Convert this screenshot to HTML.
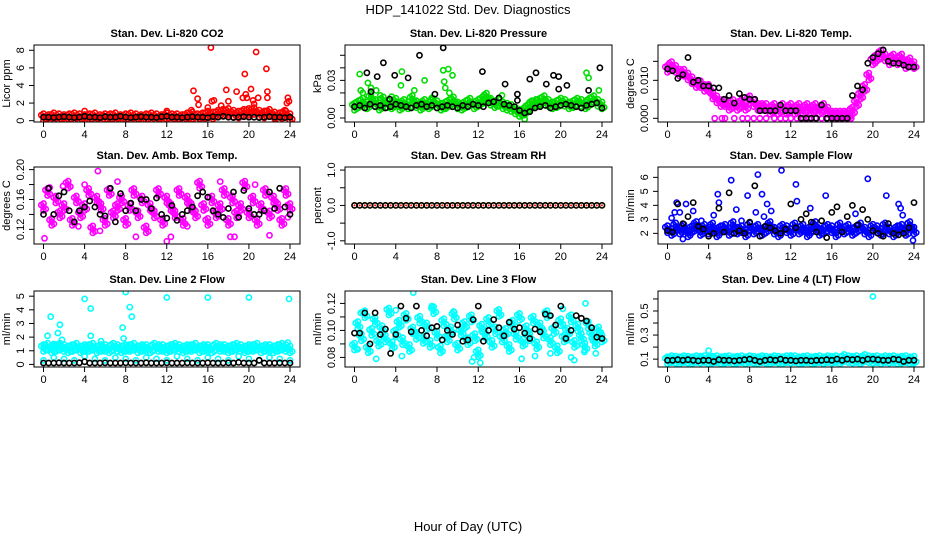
<!DOCTYPE html>
<html><head><meta charset="utf-8">
<style>
html,body{margin:0;padding:0;background:#fff;}
svg{display:block;font-family:"Liberation Sans",sans-serif;}
</style></head>
<body>
<svg id="chart" width="936" height="540" viewBox="0 0 936 540" xmlns="http://www.w3.org/2000/svg">
<rect width="936" height="540" fill="#fff"/>
<text x="468" y="14" text-anchor="middle" font-size="13">HDP_141022  Std. Dev. Diagnostics</text>
<text x="468" y="531" text-anchor="middle" font-size="13">Hour of Day (UTC)</text>
<g id="panels"></g>
</svg>
<script>
// ---- data (hours 0..24; uniform arrays spread evenly across the day) ----
const xTicks = [0,4,8,12,16,20,24];

const co2Red = [0.4,0.3,0.5,0.4,0.3,0.4,0.5,0.4,0.3,0.4,0.5,0.3,0.4,0.4,0.5,0.3,0.4,0.5,0.4,0.3,0.4,0.5,0.4,0.3,0.5,0.4,0.4,0.3,0.5,0.6,0.4,0.5,0.7,0.6,0.8,0.9,1.0,0.8,0.7,0.9,1.0,1.1,0.8,0.7,0.9,0.6,0.5,0.8,0.4];
const co2RedOutX = [0.1,4,12,14.4,14.6,15,15.1,16,16.3,16.4,16.6,17,17.3,17.8,18,18.8,19.4,19.6,19.7,19.8,20.2,20.4,20.5,20.7,20.9,21.6,21.7,21.8,21.8,23.6,23.7,23.8,23.9,13.8,17.5];
const co2RedOutY = [0.4,1.1,1.1,1.2,3.4,2.5,1.8,1.5,8.3,2.2,2.3,1.2,1.7,3.5,2.2,3.3,2.6,5.3,3.0,2.6,3.6,2.3,1.9,7.8,2.6,1.1,5.9,3.3,2.6,1.1,2.0,2.6,2.2,0.7,1.3];
const co2Black = [0.4,0.4,0.35,0.4,0.45,0.4,0.35,0.4,0.5,0.4,0.4,0.35,0.45,0.4,0.4,0.5,0.4,0.35,0.4,0.45,0.4,0.4,0.35,0.45,0.5,0.4,0.4,0.35,0.4,0.45,0.4,0.4,0.35,0.45,0.4,0.5,0.4,0.35,0.4,0.45,0.4,0.4,0.35,0.4,0.45,0.4,0.4,0.35,0.4];

const presGreen = [0.009,0.011,0.013,0.010,0.016,0.012,0.009,0.014,0.011,0.010,0.013,0.009,0.012,0.010,0.015,0.011,0.009,0.012,0.010,0.013,0.011,0.009,0.010,0.012,0.014,0.010,0.009,0.011,0.013,0.010,0.012,0.014,0.017,0.013,0.011,0.012,0.010,0.009,0.008,0.006,0.004,0.005,0.008,0.011,0.012,0.013,0.015,0.012,0.010,0.011,0.013,0.012,0.010,0.011,0.013,0.012,0.010,0.013,0.015,0.012,0.010];
const presGreenOutX = [0.5,0.6,0.8,1.3,1.6,2.1,4.6,4.5,5.8,6.8,7.5,8.6,8.7,8.8,9.1,9.5,9.2,12.5,14.3,22.5,22.7,23.7,16.5,2.5,3.6];
const presGreenOutY = [0.035,0.022,0.020,0.028,0.024,0.022,0.037,0.026,0.022,0.030,0.016,0.038,0.029,0.024,0.039,0.034,0.020,0.015,0.018,0.036,0.032,0.022,-0.001,0.018,0.017];
const presBlack = [0.009,0.010,0.008,0.011,0.009,0.010,0.008,0.009,0.011,0.010,0.009,0.008,0.010,0.011,0.009,0.010,0.008,0.009,0.010,0.009,0.008,0.010,0.009,0.011,0.010,0.009,0.012,0.013,0.016,0.011,0.010,0.009,0.006,0.004,0.005,0.008,0.009,0.010,0.008,0.009,0.010,0.011,0.010,0.009,0.008,0.010,0.011,0.012,0.008];
const presBlackOutX = [1.2,1.6,2.2,2.8,3.9,5.2,6.3,8.6,7.8,12.4,14.6,15.8,17,17.6,18.6,19.3,19.8,19.8,20.6,22.7,23.8,3.4,15.8];
const presBlackOutY = [0.036,0.021,0.033,0.044,0.034,0.032,0.050,0.056,0.019,0.037,0.027,0.019,0.031,0.036,0.027,0.034,0.033,0.023,0.026,0.022,0.040,0.015,0.014];

const tempMag = [0.013,0.014,0.013,0.012,0.012,0.011,0.010,0.009,0.009,0.008,0.008,0.006,0.005,0.004,0.004,0.003,0.004,0.003,0.004,0.003,0.005,0.004,0.003,0.003,0.003,0.002,0.003,0.002,0.003,0.002,0.003,0.002,0.003,0.002,0.003,0.002,0.003,0.002,0.003,0.002,0.001,0.001,0.001,0.001,0.001,0.002,0.004,0.006,0.008,0.011,0.015,0.016,0.017,0.016,0.015,0.016,0.015,0.016,0.014,0.015,0.014];
const tempMagZeroX = [4.6,5.3,5.6,6.5,7.3,7.8,8.4,9.0,9.6,10.4,11.0,11.5,12.0,12.6,13.2,13.8,14.4,15.0,15.6,16.2,16.8,17.4,17.9];
const tempMagZeroY = [0,0,0,0,0,0,0,0,0,0,0,0,0,0,0,0,0,0,0,0,0,0,0];
const tempBlack = [0.013,0.0125,0.0105,0.0115,0.016,0.0095,0.010,0.0085,0.0085,0.008,0.008,0.005,0.006,0.004,0.0065,0.0055,0.005,0.005,0.002,0.002,0.002,0.002,0.0035,0.002,0.002,0.002,0,0,0,0,0.0035,0,0,0,0,0,0.006,0.0085,0.0075,0.0145,0.016,0.017,0.018,0.015,0.0145,0.0145,0.014,0.0135,0.0135];

const ambMag = [0.15,0.17,0.13,0.16,0.14,0.15,0.18,0.13,0.16,0.14,0.15,0.17,0.12,0.16,0.15,0.13,0.17,0.14,0.15,0.16,0.13,0.15,0.17,0.14,0.16,0.12,0.15,0.14,0.17,0.13,0.16,0.15,0.14,0.17,0.13,0.16,0.15,0.14,0.18,0.15,0.13,0.16,0.14,0.15,0.17,0.13,0.16,0.14,0.15,0.18,0.14,0.16,0.13,0.15,0.17,0.14,0.16,0.15,0.13,0.17,0.15];
const ambMagOutX = [0.1,0.6,4.0,5.3,5.5,7.2,9.0,12.0,12.4,14.0,17.2,18.2,18.6,20.6,22.0,23.8,1.9,3.4];
const ambMagOutY = [0.108,0.176,0.18,0.198,0.118,0.184,0.11,0.104,0.11,0.124,0.184,0.11,0.11,0.18,0.112,0.136,0.178,0.124];
const ambBlack = [0.14,0.175,0.14,0.165,0.17,0.145,0.13,0.145,0.15,0.158,0.15,0.14,0.138,0.175,0.13,0.168,0.145,0.155,0.145,0.16,0.16,0.148,0.162,0.14,0.135,0.152,0.132,0.14,0.145,0.15,0.165,0.17,0.163,0.145,0.14,0.136,0.148,0.17,0.136,0.172,0.148,0.14,0.14,0.145,0.17,0.148,0.175,0.15,0.14];

const rhBack = [0,0,0,0,0,0,0,0,0,0,0,0,0,0,0,0,0,0,0,0,0,0,0,0,0,0,0,0,0,0,0,0,0,0,0,0,0,0,0,0,0,0,0,0,0,0,0,0,0];
const rhBlack = [0,0,0,0,0,0,0,0,0,0,0,0,0,0,0,0,0,0,0,0,0,0,0,0,0,0,0,0,0,0,0,0,0,0,0,0,0,0,0,0,0,0,0,0,0,0,0,0,0];

const flowBlue = [2.3,2.1,2.5,2.2,2.4,2.0,2.3,2.6,2.1,2.4,2.2,2.5,2.0,2.3,2.4,2.1,2.6,2.2,2.3,2.0,2.5,2.2,2.4,2.1,2.3,2.6,2.2,2.0,2.4,2.3,2.1,2.5,2.2,2.4,2.0,2.3,2.6,2.1,2.2,2.4,2.3,2.0,2.5,2.2,2.4,2.1,2.3,2.5,2.2,2.0,2.4,2.3,2.1,2.5,2.2,2.0,2.3,2.4,2.1,2.6,2.2];
const flowBlueOutX = [0.4,0.7,0.9,1.2,1.5,1.8,2.5,3.3,4.5,4.9,5.0,6.2,6.7,7.2,7.8,8.6,8.8,9.2,9.4,9.7,10.1,11.1,12.5,12.6,13.9,15.4,18.3,19.5,21.3,22.5,22.7,22.9,23.9];
const flowBlueOutY = [3.1,3.5,4.2,3.5,1.6,4.1,3.6,2.9,3.3,4.8,4.2,5.8,3.7,2.9,4.7,3.5,6.2,4.8,3.2,4.1,3.6,6.5,5.5,4.3,3.8,4.7,3.4,5.9,4.7,4.1,3.8,3.3,1.5];
const flowBlack = [2.2,2.1,4.1,2.7,3.2,4.2,2.5,2.3,1.8,2.0,3.8,2.1,4.9,2.0,2.2,2.0,2.8,5.4,1.8,2.5,2.4,2.2,2.0,2.3,4.1,2.4,3.0,3.4,2.8,2.1,2.9,1.7,3.5,3.9,2.1,3.2,4.0,2.6,3.7,3.0,2.2,2.0,1.8,2.7,2.0,1.9,2.0,2.4,4.2];

const l2Cyan = [1.2,1.3,1.1,1.2,1.3,1.2,1.1,1.2,1.3,1.1,1.2,1.2,1.3,1.1,1.2,1.2,1.1,1.3,1.2,1.1,1.2,1.2,1.3,1.1,1.2,1.2,1.1,1.3,1.2,1.2,1.1,1.2,1.3,1.2,1.1,1.2,1.2,1.3,1.1,1.2,1.2,1.1,1.3,1.2,1.2,1.1,1.2,1.3,1.2,1.1,1.2,1.2,1.3,1.1,1.2,1.2,1.1,1.2,1.3,1.2,1.1];
const l2CyanLow = [0.3,0.5,0.4,0.3,0.6,0.4,0.3,0.5,0.4,0.3,0.5,0.4,0.3,0.6,0.4,0.3,0.5,0.4,0.3,0.6,0.4,0.3,0.5,0.4,0.3];
const l2CyanOutX = [0.4,0.7,1.4,1.6,1.8,4.0,4.6,4.6,5.6,8.0,7.7,7.8,8.4,8.6,12.0,16.0,20.0,23.9,23.8,1.0];
const l2CyanOutY = [2.1,3.5,2.3,2.9,1.8,4.8,4.1,2.1,1.7,5.3,2.7,1.9,4.2,3.5,4.9,4.9,4.9,4.8,1.6,1.5];
const l2Black = [0.1,0.1,0.1,0.12,0.1,0.1,0.1,0.12,0.2,0.1,0.1,0.1,0.12,0.1,0.1,0.1,0.12,0.1,0.1,0.1,0.12,0.1,0.1,0.1,0.12,0.1,0.1,0.1,0.12,0.1,0.1,0.1,0.12,0.1,0.1,0.1,0.12,0.1,0.15,0.1,0.1,0.1,0.3,0.1,0.1,0.1,0.12,0.1,0.1];

const l3Cyan = [0.088,0.104,0.095,0.112,0.086,0.099,0.107,0.091,0.101,0.094,0.114,0.089,0.098,0.105,0.092,0.11,0.087,0.1,0.096,0.108,0.093,0.103,0.09,0.115,0.097,0.086,0.106,0.094,0.1,0.111,0.088,0.099,0.104,0.092,0.109,0.095,0.083,0.102,0.097,0.107,0.09,0.1,0.113,0.094,0.099,0.087,0.105,0.096,0.11,0.091,0.101,0.095,0.108,0.089,0.103,0.097,0.112,0.092,0.1,0.086,0.106,0.094,0.099,0.109,0.09,0.102,0.095,0.088,0.104,0.097,0.091,0.1,0.094];
const l3CyanOutX = [0.6,2.1,4.0,4.6,5.7,7.5,9.6,11.4,11.6,12.2,16.2,17.5,19.0,20.2,21.0,21.3,22.4,23.4,22.3,0.3];
const l3CyanOutY = [0.113,0.079,0.115,0.081,0.128,0.118,0.114,0.077,0.08,0.076,0.079,0.081,0.083,0.116,0.08,0.078,0.12,0.083,0.084,0.086];
const l3Black = [0.098,0.098,0.113,0.09,0.113,0.097,0.101,0.083,0.097,0.118,0.109,0.099,0.118,0.1,0.096,0.102,0.103,0.093,0.1,0.097,0.104,0.092,0.093,0.108,0.118,0.092,0.1,0.108,0.102,0.096,0.106,0.101,0.102,0.098,0.094,0.101,0.099,0.112,0.111,0.104,0.118,0.094,0.1,0.111,0.109,0.107,0.102,0.095,0.094];

const l4Cyan = [0.09,0.1,0.095,0.09,0.1,0.095,0.09,0.1,0.095,0.1,0.09,0.095,0.1,0.09,0.095,0.1,0.09,0.095,0.1,0.09,0.1,0.095,0.09,0.1,0.095,0.09,0.1,0.095,0.09,0.1,0.095,0.1,0.09,0.095,0.1,0.09,0.095,0.1,0.09,0.1,0.095,0.1,0.09,0.11,0.1,0.095,0.1,0.09,0.11,0.1,0.095,0.1,0.09,0.1,0.095,0.1,0.09,0.095,0.1,0.09,0.095];
const l4CyanOutX = [4.0,12.0,20.0,19.0,18.3];
const l4CyanOutY = [0.17,0.13,0.62,0.11,0.08];
const l4Black = [0.09,0.09,0.095,0.09,0.095,0.09,0.085,0.09,0.09,0.08,0.095,0.09,0.09,0.085,0.09,0.095,0.1,0.09,0.08,0.09,0.095,0.09,0.1,0.09,0.09,0.085,0.09,0.09,0.085,0.09,0.09,0.095,0.09,0.1,0.09,0.1,0.095,0.1,0.09,0.1,0.1,0.095,0.09,0.09,0.1,0.095,0.08,0.09,0.09];

// ---- layout ----
const cols=[[34,300],[345,612],[658,924]];
const rows=[[45,122],[167,244],[291,367]];
const NS='http://www.w3.org/2000/svg';
const root=document.getElementById('panels');
function mk(tag,attrs,parent){const e=document.createElementNS(NS,tag);for(const k in attrs)e.setAttribute(k,attrs[k]);(parent||root).appendChild(e);return e;}

// series: [colour, yValues, xValues|null, dense-band style]
const panels=[
 {r:0,c:0,title:'Stan. Dev. Li-820 CO2',yl:'Licor ppm',dom:[-0.15,8.6],ticks:[0,2,4,6,8],labels:['0','2','4','6','8'],
  series:[['#ff0000',co2Red,null,1],['#ff0000',co2RedOutY,co2RedOutX,0],['#000000',co2Black,null,0]]},
 {r:0,c:1,title:'Stan. Dev. Li-820 Pressure',yl:'kPa',dom:[-0.0032,0.0582],ticks:[0,0.01,0.02,0.03,0.04,0.05],labels:['0.00','','','0.03','',''],
  series:[['#00dd00',presGreen,null,1],['#00dd00',presGreenOutY,presGreenOutX,0],['#000000',presBlack,null,0],['#000000',presBlackOutY,presBlackOutX,0]]},
 {r:0,c:2,title:'Stan. Dev. Li-820 Temp.',yl:'degrees C',dom:[-0.00097,0.0193],ticks:[0,0.005,0.01,0.015],labels:['0.000','','0.010',''],
  series:[['#ff00ff',tempMag,null,1],['#ff00ff',tempMagZeroY,tempMagZeroX,0],['#000000',tempBlack,null,0]]},
 {r:1,c:0,title:'Stan. Dev. Amb. Box Temp.',yl:'degrees C',dom:[0.1004,0.2035],ticks:[0.12,0.14,0.16,0.18,0.2],labels:['0.12','','0.16','','0.20'],
  series:[['#ff00ff',ambMag,null,1],['#ff00ff',ambMagOutY,ambMagOutX,0],['#000000',ambBlack,null,0]]},
 {r:1,c:1,title:'Stan. Dev. Gas Stream RH',yl:'percent',dom:[-1.09,1.087],ticks:[-1,-0.5,0,0.5,1],labels:['-1.0','','0.0','','1.0'],
  series:[['#ffcc00',rhBack,null,0],['#000000',rhBlack,null,0]]},
 {r:1,c:2,title:'Stan. Dev. Sample Flow',yl:'ml/min',dom:[1.24,6.74],ticks:[2,3,4,5,6],labels:['2','3','4','5','6'],
  series:[['#0000ff',flowBlue,null,1],['#0000ff',flowBlueOutY,flowBlueOutX,0],['#000000',flowBlack,null,0]]},
 {r:2,c:0,title:'Stan. Dev. Line 2 Flow',yl:'ml/min',dom:[-0.19,5.38],ticks:[0,1,2,3,4,5],labels:['0','1','2','3','4','5'],
  series:[['#00ffff',l2Cyan,null,1],['#00ffff',l2CyanLow,null,0],['#00ffff',l2CyanOutY,l2CyanOutX,0],['#000000',l2Black,null,0]]},
 {r:2,c:1,title:'Stan. Dev. Line 3 Flow',yl:'ml/min',dom:[0.0729,0.1292],ticks:[0.08,0.09,0.1,0.11,0.12],labels:['0.08','','0.10','','0.12'],
  series:[['#00ffff',l3Cyan,null,1],['#00ffff',l3CyanOutY,l3CyanOutX,0],['#000000',l3Black,null,0]]},
 {r:2,c:2,title:'Stan. Dev. Line 4 (LT) Flow',yl:'ml/min',dom:[0.0347,0.666],ticks:[0.1,0.2,0.3,0.4,0.5,0.6],labels:['0.1','','0.3','','0.5',''],
  series:[['#00ffff',l4Cyan,null,1],['#00ffff',l4CyanOutY,l4CyanOutX,0],['#000000',l4Black,null,0]]}
];

panels.forEach((p,pi)=>{
  const [L,R]=cols[p.c],[T,B]=rows[p.r];
  const g=mk('g',{});
  
  
  const xs=v=>L+9.5+(v/24)*(R-L-19.5);
  const ys=v=>B-(v-p.dom[0])/(p.dom[1]-p.dom[0])*(B-T);
  const clip='clip'+pi;
  const cp=mk('clipPath',{id:clip},g);mk('rect',{x:L,y:T,width:R-L,height:B-T},cp);
  const pts=mk('g',{'clip-path':'url(#'+clip+')'},g);
  p.series.forEach(([col,yv,xv,dense],si)=>{
    const sg=mk('g',{},pts);
    
    
    yv.forEach((v,i)=>{
      const xv2=xv?xv[i]:i*24/(yv.length-1);
      const cx=xs(xv2), cy=ys(v);
      const c=mk('circle',{cx:cx.toFixed(1),cy:cy.toFixed(1),r:2.6,fill:'none',stroke:col,'stroke-width':1.6},sg);
      
      
      if(dense){
        [[-2.2,-2],[2.2,2],[0,-3.5],[0,3.5]].forEach(([dx,dy])=>{
          mk('circle',{cx:(cx+dx).toFixed(1),cy:(cy+dy).toFixed(1),r:2.6,fill:'none',stroke:col,'stroke-width':1.6},sg);
        });
      }
      if(pi===4&&si===0){mk('circle',{cx:cx.toFixed(1),cy:cy.toFixed(1),r:1,fill:'#ff0000'},sg);}
    });
  });
  const box=mk('rect',{x:L,y:T,width:R-L,height:B-T,fill:'none',stroke:'#000','stroke-width':1},g);
  
  
  mk('line',{x1:xs(0),x2:xs(24),y1:B,y2:B,stroke:'#000'},g);
  xTicks.forEach(t=>{
    mk('line',{x1:xs(t),x2:xs(t),y1:B,y2:B+5,stroke:'#000'},g);
    const tx=mk('text',{x:xs(t),y:B+16,'text-anchor':'middle','font-size':11},g);
    tx.textContent=t;
    
    
  });
  p.ticks.forEach((t,i)=>{
    mk('line',{x1:L-5,x2:L,y1:ys(t),y2:ys(t),stroke:'#000'},g);
    if(p.labels[i]){
      const tx=mk('text',{x:0,y:0,'text-anchor':'middle','font-size':11,transform:`translate(${L-10},${ys(t)}) rotate(-90)`},g);
      tx.textContent=p.labels[i];
      
      
    }
  });
  const yl=mk('text',{x:0,y:0,'text-anchor':'middle','font-size':11,transform:`translate(${L-24},${(T+B)/2}) rotate(-90)`},g);
  yl.textContent=p.yl;
  
  
  const tt=mk('text',{x:(L+R)/2,y:T-8,'text-anchor':'middle','font-size':11,'font-weight':'bold'},g);
  tt.textContent=p.title;
  
  
});
</script>
</body></html>
